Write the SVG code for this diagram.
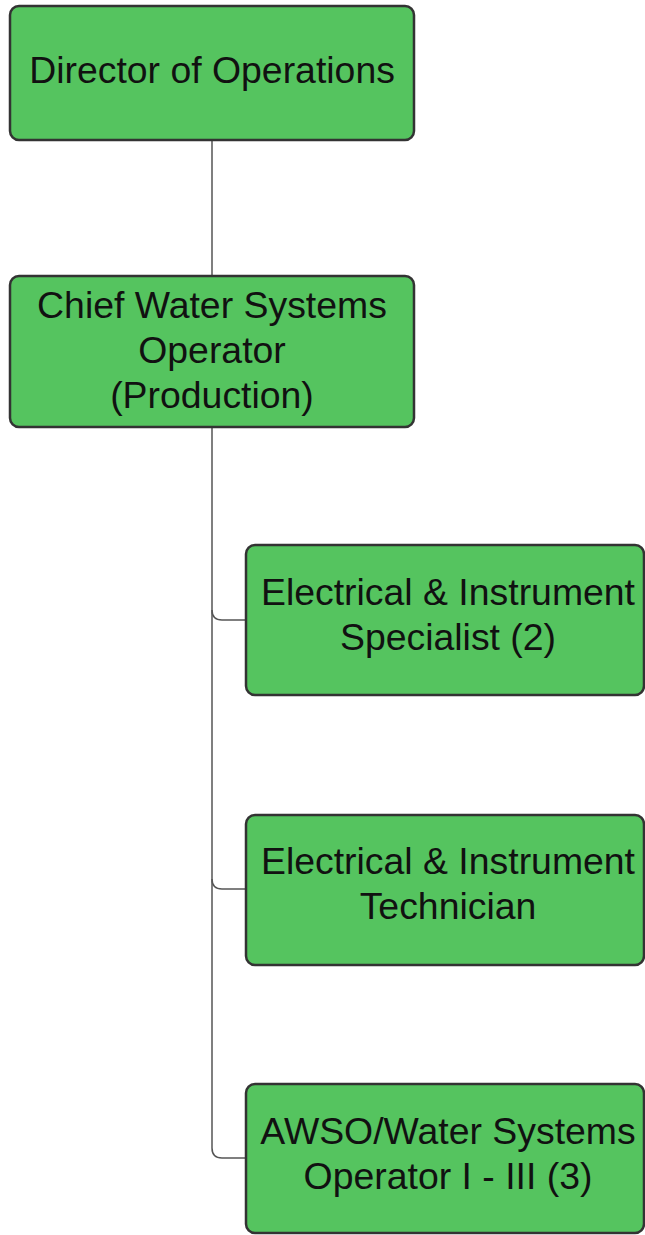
<svg xmlns="http://www.w3.org/2000/svg" width="645" height="1235" viewBox="0 0 645 1235">
<style>
.box{fill:#55c45f;stroke:#333;stroke-width:2.5}
.t{font-family:"Liberation Sans",Arial,sans-serif;font-size:37.4px;fill:#111;text-anchor:middle}
.c{fill:none;stroke:#555;stroke-width:1.5}
</style>
<rect width="645" height="1235" fill="#fff"/>
<g id="connectors">
<path class="c" d="M212 140 V276"/>
<path class="c" d="M212 427 V1148 Q212 1158 222 1158 H246"/>
<path class="c" d="M212 610 Q212 620 222 620 H246"/>
<path class="c" d="M212 879 Q212 889 222 889 H246"/>
</g>
<g id="director">
<rect class="box" x="10" y="6" width="404" height="134" rx="9"/>
<text class="t" x="212" y="83">Director of Operations</text>
</g>
<g id="chief">
<rect class="box" x="10" y="276" width="404" height="151" rx="9"/>
<text class="t" x="212" y="318">Chief Water Systems</text>
<text class="t" x="212" y="363">Operator</text>
<text class="t" x="212" y="408">(Production)</text>
</g>
<g id="ei-specialist">
<rect class="box" x="246" y="545" width="398" height="150" rx="9"/>
<text class="t" x="448" y="605">Electrical &amp; Instrument</text>
<text class="t" x="448" y="650">Specialist (2)</text>
</g>
<g id="ei-technician">
<rect class="box" x="246" y="815" width="398" height="150" rx="9"/>
<text class="t" x="448" y="874">Electrical &amp; Instrument</text>
<text class="t" x="448" y="919">Technician</text>
</g>
<g id="awso">
<rect class="box" x="246" y="1084" width="398" height="149" rx="9"/>
<text class="t" x="448" y="1144">AWSO/Water Systems</text>
<text class="t" x="448" y="1189">Operator I - III (3)</text>
</g>
</svg>
